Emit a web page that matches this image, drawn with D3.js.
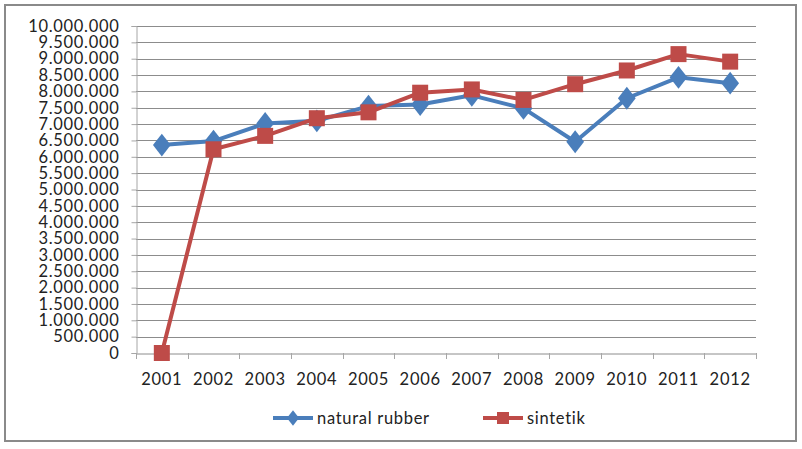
<!DOCTYPE html>
<html>
<head>
<meta charset="utf-8">
<script src="https://cdn.jsdelivr.net/npm/d3@7"></script>
<style>
  body { margin: 0; background: #fff; }
  svg text { font-family: Lato, "Open Sans", sans-serif; fill: #222; letter-spacing: 0.7px; }
</style>
</head>
<body>
<svg id="chart" width="802" height="449"></svg>
<script>
const years = ["2001","2002","2003","2004","2005","2006","2007","2008","2009","2010","2011","2012"];
const naturalRubber = [6360000, 6480000, 7020000, 7100000, 7550000, 7600000, 7880000, 7480000, 6460000, 7790000, 8430000, 8250000];
const sintetik = [0, 6230000, 6640000, 7180000, 7360000, 7960000, 8060000, 7740000, 8220000, 8640000, 9140000, 8910000];
const yTicks = d3.range(0, 10000001, 500000);

const svg = d3.select("#chart");

// outer frame
svg.append("rect")
  .attr("x", 5).attr("y", 5).attr("width", 791).attr("height", 436)
  .attr("fill", "#fff").attr("stroke", "#8a8a8a").attr("stroke-width", 2);

const plotLeft = 136, plotRight = 756, plotTop = 26, plotBottom = 353;

const x = d3.scaleBand().domain(years).range([plotLeft, plotRight]);
const y = d3.scaleLinear().domain([0, 10000000]).range([plotBottom, plotTop]);

const fmt = d => d === 0 ? "0" : d3.format(",")(d).replace(/,/g, ".");

// gridlines
svg.append("g")
  .selectAll("line")
  .data(yTicks.filter(d => d > 0))
  .enter()
  .append("line")
  .attr("x1", plotLeft).attr("x2", plotRight)
  .attr("y1", d => Math.round(y(d)) + 0.5).attr("y2", d => Math.round(y(d)) + 0.5)
  .attr("stroke", "#8c8c8c").attr("stroke-width", 1);

// y axis
const yAxis = svg.append("g")
  .attr("transform", `translate(${plotLeft + 0.5},0)`)
  .call(d3.axisLeft(y).tickValues(yTicks).tickFormat(fmt).tickSize(5).tickPadding(12));
yAxis.select(".domain").attr("stroke", "#a6a6a6");
yAxis.selectAll(".tick line").attr("stroke", "#a6a6a6");
yAxis.selectAll("text").style("font-size", "16.5px").attr("fill", "#222");

// x axis
const xAxis = svg.append("g")
  .attr("transform", `translate(0,${Math.round(y(0)) + 0.5})`)
  .call(d3.axisBottom(x).tickSize(0).tickPadding(20));
xAxis.select(".domain").attr("stroke", "#8c8c8c");
xAxis.selectAll("text").style("font-size", "16.5px").attr("fill", "#222");
// boundary ticks
svg.append("g")
  .selectAll("line")
  .data(d3.range(years.length + 1))
  .enter()
  .append("line")
  .attr("x1", i => Math.round(plotLeft + i * x.step()) + 0.5)
  .attr("x2", i => Math.round(plotLeft + i * x.step()) + 0.5)
  .attr("y1", Math.round(y(0))).attr("y2", Math.round(y(0)) + 6)
  .attr("stroke", "#a6a6a6");

const cx = d => x(d) + x.bandwidth() / 2;
const line = d3.line().x((d, i) => cx(years[i])).y(d => y(d));

const blue = "#4a7ebb", red = "#be4b48";

svg.append("path").datum(naturalRubber)
  .attr("d", line).attr("fill", "none")
  .attr("stroke", blue).attr("stroke-width", 4).attr("stroke-linejoin", "round");
svg.append("g").selectAll("path")
  .data(naturalRubber).enter().append("path")
  .attr("d", d3.symbol(d3.symbolDiamond, 150))
  .attr("transform", (d, i) => `translate(${cx(years[i])},${y(d)}) scale(1.35,1)`)
  .attr("fill", blue);

svg.append("path").datum(sintetik)
  .attr("d", line).attr("fill", "none")
  .attr("stroke", red).attr("stroke-width", 4).attr("stroke-linejoin", "round");
svg.append("g").selectAll("rect")
  .data(sintetik).enter().append("rect")
  .attr("x", (d, i) => cx(years[i]) - 8).attr("y", d => y(d) - 8)
  .attr("width", 16).attr("height", 16)
  .attr("fill", red);

// legend
const legend = [
  { name: "natural rubber", color: blue, x: 273, shape: "diamond" },
  { name: "sintetik", color: red, x: 483, shape: "square" }
];
const ly = 418;
const lg = svg.append("g").selectAll("g").data(legend).enter().append("g");
lg.append("line")
  .attr("x1", d => d.x).attr("x2", d => d.x + 40)
  .attr("y1", ly).attr("y2", ly)
  .attr("stroke", d => d.color).attr("stroke-width", 4);
lg.filter(d => d.shape === "diamond").append("path")
  .attr("d", d3.symbol(d3.symbolDiamond, 70))
  .attr("transform", d => `translate(${d.x + 20},${ly}) scale(1.35,1)`)
  .attr("fill", d => d.color);
lg.filter(d => d.shape === "square").append("rect")
  .attr("x", d => d.x + 14).attr("y", ly - 6).attr("width", 12).attr("height", 12)
  .attr("fill", d => d.color);
lg.append("text")
  .attr("x", d => d.x + 44).attr("y", ly)
  .attr("dy", "0.35em")
  .style("font-size", "16.5px")
  .text(d => d.name);
</script>
</body>
</html>
